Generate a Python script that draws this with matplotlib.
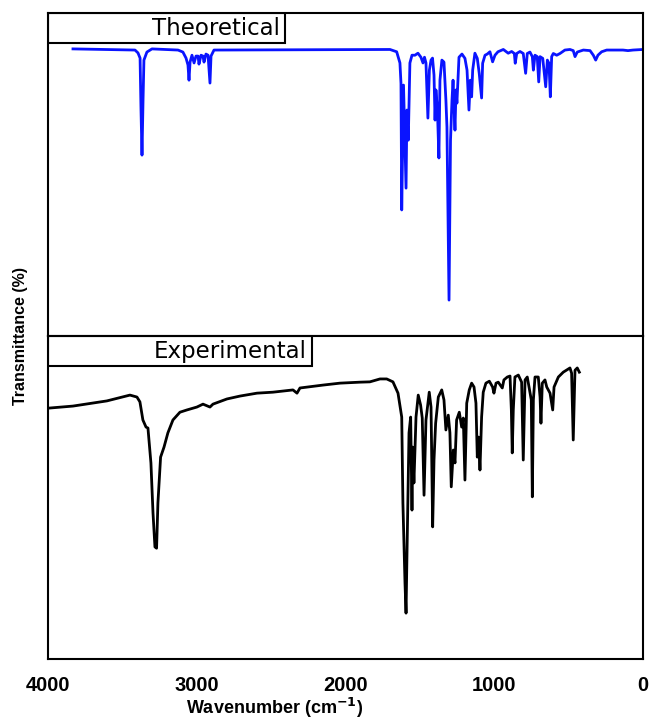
import numpy as np
import matplotlib
matplotlib.use("Agg")
import matplotlib.pyplot as plt
from matplotlib.patches import Rectangle

plt.rcParams['font.family'] = ['Liberation Sans', 'DejaVu Sans']

# theoretical spectrum (traced), wavenumber cm-1 / transmittance
theo_wn = [3832, 3415, 3395, 3381, 3375, 3368, 3361, 3355, 3335, 3301,
           3126, 3093, 3072, 3059, 3052, 3045, 3032, 3018, 3005, 2991,
           2985, 2971, 2958, 2951, 2938, 2924, 2911, 2904, 2884,
           1701, 1656, 1634, 1627, 1622, 1617, 1610, 1593, 1587, 1578,
           1567, 1553, 1533, 1513, 1493, 1479, 1469, 1459, 1446, 1436,
           1425, 1415, 1405, 1398, 1392, 1382, 1372, 1365, 1352, 1338,
           1325, 1318, 1304, 1294, 1284, 1277, 1264, 1257, 1251, 1237,
           1217, 1197, 1183, 1170, 1161, 1152, 1145, 1130, 1114, 1101,
           1085, 1078, 1062, 1047, 1029, 1011, 995, 975, 939, 906,
           883, 865, 859, 849, 827, 805, 789, 778, 760, 744,
           737, 726, 711, 701, 692, 674, 654, 643, 632, 623,
           614, 603, 580, 558, 525, 491, 469, 457, 442, 401,
           356, 334, 318, 303, 278, 244, 135, 101, 67, 0]
theo_T = [100, 99.6, 98.6, 96.8, 79.4, 63.0, 82.2, 96.1, 98.9, 100,
          99.6, 98.9, 96.8, 94.4, 89.1, 95.4, 97.8, 95.1, 97.5, 97.5,
          94.7, 97.8, 97.5, 95.4, 98.2, 97.8, 88.1, 97.5, 99.6,
          99.8, 99.0, 95.1, 88.0, 43.9, 61.3, 87.4, 51.5, 78.7, 68.2,
          95.1, 97.8, 97.8, 98.5, 97.1, 95.1, 97.1, 95.1, 75.9, 92.6,
          96.1, 96.8, 90.9, 75.2, 85.7, 78.7, 62.0, 89.1, 96.1, 95.4,
          82.2, 72.8, 12.5, 68.2, 82.2, 89.1, 71.7, 85.7, 81.1, 97.1,
          98.2, 96.7, 92.6, 78.7, 89.1, 83.3, 92.6, 98.5, 96.7, 91.5,
          82.9, 95.0, 97.8, 98.2, 99.0, 95.5, 97.8, 99.0, 99.8, 98.5,
          99.1, 98.4, 95.0, 98.4, 99.1, 98.4, 91.5, 98.4, 98.9, 97.3,
          92.6, 97.8, 97.3, 88.5, 97.3, 96.7, 86.8, 96.1, 95.0, 83.3,
          97.3, 98.4, 97.8, 98.4, 99.6, 99.8, 99.4, 97.3, 98.9, 99.6,
          99.4, 97.8, 96.1, 97.8, 99.0, 99.6, 99.6, 99.4, 99.6, 99.8]

# experimental spectrum (traced)
exp_wn = [3987, 3832, 3604, 3449, 3402, 3382, 3362, 3341, 3328, 3308,
          3294, 3281, 3270, 3261, 3243, 3220, 3194, 3160, 3113, 3066,
          2999, 2958, 2911, 2891, 2797, 2709, 2595, 2488, 2353, 2326,
          2306, 2151, 2037, 1903, 1836, 1768, 1723, 1681, 1647, 1622,
          1614, 1600, 1593, 1587, 1573, 1562, 1553, 1548, 1540, 1526,
          1511, 1495, 1484, 1472, 1459, 1437, 1425, 1414, 1405, 1394,
          1376, 1353, 1338, 1325, 1309, 1298, 1289, 1275, 1264, 1253,
          1235, 1219, 1208, 1197, 1185, 1168, 1152, 1136, 1123, 1114,
          1105, 1096, 1085, 1074, 1056, 1033, 1011, 1002, 988, 973,
          946, 935, 912, 894, 885, 879, 872, 861, 838, 816,
          805, 793, 778, 751, 744, 737, 726, 704, 692, 686,
          677, 659, 647, 625, 607, 598, 569, 536, 491, 480,
          469, 459, 457, 442, 428]
exp_T = [77.7, 78.3, 79.9, 81.7, 81.1, 79.6, 74.0, 71.8, 71.5, 60.7,
         45.2, 34.7, 34.3, 48.3, 62.5, 65.6, 70.0, 74.0, 76.4, 77.1,
         78.0, 78.9, 78.0, 78.9, 80.5, 81.4, 82.3, 82.6, 83.3, 82.3,
         83.9, 84.8, 85.4, 85.7, 85.8, 86.7, 86.7, 85.8, 82.3, 74.9,
         48.3, 23.5, 14.2, 31.6, 70.0, 74.9, 46.1, 65.6, 54.5, 74.9,
         81.7, 78.6, 74.6, 50.7, 74.0, 82.6, 78.0, 40.9, 61.6, 73.0,
         81.1, 83.3, 80.2, 70.9, 75.5, 70.0, 53.3, 64.7, 60.7, 74.0,
         76.4, 71.8, 74.6, 55.4, 79.2, 83.3, 85.4, 84.2, 79.2, 62.5,
         68.7, 58.5, 74.9, 82.6, 85.4, 86.0, 84.2, 82.3, 85.4, 85.7,
         83.9, 86.4, 87.3, 87.6, 77.1, 63.8, 77.1, 87.3, 87.9, 85.7,
         61.6, 86.4, 87.3, 80.2, 50.2, 80.2, 87.3, 87.3, 81.1, 73.0,
         85.4, 86.4, 84.2, 82.3, 77.1, 84.2, 87.3, 88.8, 90.1, 88.5,
         67.8, 86.4, 89.4, 90.1, 88.8]

xticks = [4000, 3000, 2000, 1000, 0]
panel_names = ["Theoretical", "Experimental"]

fig = plt.figure(figsize=(6.52, 7.23), dpi=100)
ax1 = fig.add_axes([0.0736, 0.5353, 0.9126, 0.4467])
ax2 = fig.add_axes([0.0736, 0.0885, 0.9126, 0.4468])

ax1.plot(theo_wn, theo_T, color='#0a14ff', lw=2.0)
ax2.plot(exp_wn, exp_T, color='black', lw=2.0)

ax1.set_ylim(0, 112.5)
ax2.set_ylim(0, 100)

box_w = [0.398, 0.444]
text_x = [0.390, 0.435]
for ax, name, bw, tx in zip([ax1, ax2], panel_names, box_w, text_x):
    ax.set_xlim(4000, 0)
    ax.set_yticks([])
    for s in ax.spines.values():
        s.set_linewidth(1.5)
    ax.add_patch(Rectangle((0, 0.908), bw, 0.092, transform=ax.transAxes,
                           fill=False, ec='black', lw=1.5, zorder=5))
    ax.text(tx, 0.953, name, transform=ax.transAxes, ha='right', va='center',
            fontsize=16.5, family='DejaVu Sans', zorder=6)

ax1.set_xticks([])
ax2.set_xticks(xticks)
ax2.set_xticklabels([str(t) for t in xticks], fontsize=14.5, fontweight='bold')
ax2.tick_params(axis='x', length=0, pad=12)

ax2.set_xlabel("Wavenumber (cm$^{\\mathbf{-1}}$)", fontsize=13, fontweight='bold')
ax2.xaxis.label.set_va('center')
ax2.xaxis.set_label_coords(0.381, -0.150)

fig.text(0.031, 0.535, "Transmittance (%)", rotation=90, ha='center', va='center',
         fontsize=11.5, fontweight='bold')

fig.savefig("out.png", dpi=100, facecolor='white')
